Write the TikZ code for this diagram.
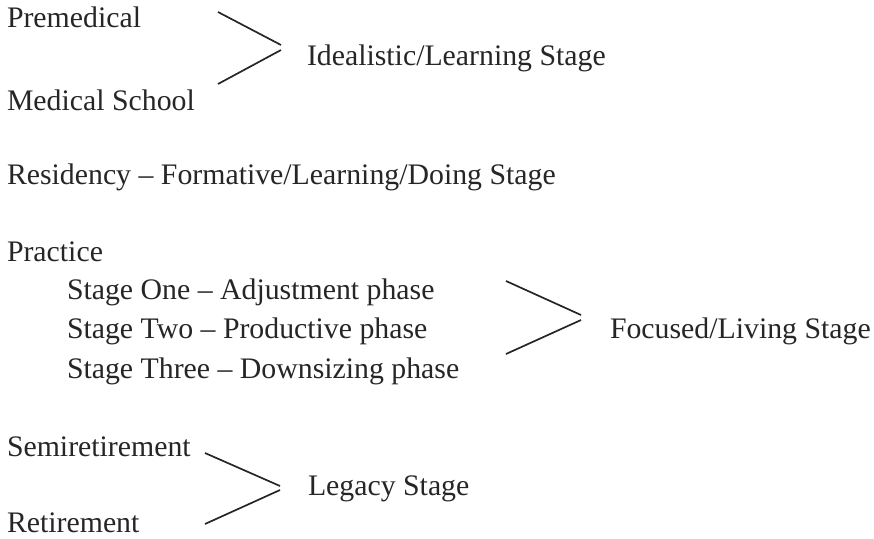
\documentclass[tikz,border=0pt]{standalone}
\usepackage{fontspec}
\setmainfont{Liberation Serif}
\begin{document}
\begin{tikzpicture}[x=1pt,y=-1pt,
  lbl/.style={anchor=base west,inner sep=0pt,outer sep=0pt,font=\fontsize{29.8}{34}\selectfont,text=black!85},
  brace/.style={draw=black!85,line width=1.7pt}]
\useasboundingbox (0,0) rectangle (874,538);
\node[lbl] (pre) at (7,27) {Premedical};
\node[lbl] (med) at (7,110) {Medical School};
\node[lbl] (ide) at (307,65) {Idealistic/Learning Stage};
\node[lbl] (res) at (7,184) {Residency – Formative/Learning/Doing Stage};
\node[lbl] (pra) at (7,261) {Practice};
\node[lbl] (s1) at (67,299) {Stage One – Adjustment phase};
\node[lbl] (s2) at (67,338) {Stage Two – Productive phase};
\node[lbl] (s3) at (67,378) {Stage Three – Downsizing phase};
\node[lbl] (foc) at (610,338) {Focused/Living Stage};
\node[lbl] (semi) at (7,456) {Semiretirement};
\node[lbl,text depth=0pt] (ret) at (7,532.5) {Retirement};
\node[lbl] (leg) at (308,495) {Legacy Stage};
% bracket 1
\coordinate (a1) at (218,12);
\coordinate (a2) at (281,45);
\coordinate (a3) at (281,50);
\coordinate (a4) at (218,84);
\draw[brace] (a1) -- (a2);
\draw[brace] (a3) -- (a4);
% bracket 2
\coordinate (b1) at (506,281);
\coordinate (b2) at (581,315);
\coordinate (b3) at (581,320);
\coordinate (b4) at (506,354);
\draw[brace] (b1) -- (b2);
\draw[brace] (b3) -- (b4);
% bracket 3
\coordinate (c1) at (205,453);
\coordinate (c2) at (280,486);
\coordinate (c3) at (280,490);
\coordinate (c4) at (205,524);
\draw[brace] (c1) -- (c2);
\draw[brace] (c3) -- (c4);
\end{tikzpicture}
\end{document}
